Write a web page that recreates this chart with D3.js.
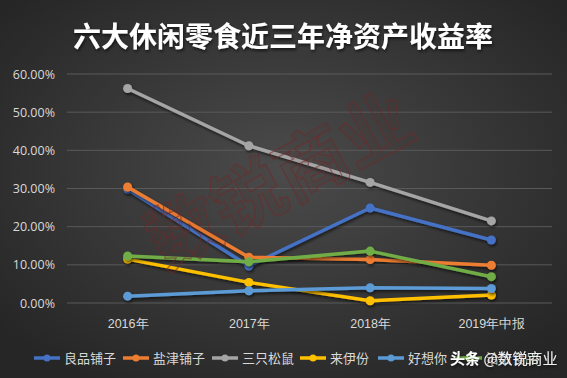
<!DOCTYPE html>
<html>
<head>
<meta charset="utf-8">
<script src="https://cdn.jsdelivr.net/npm/d3@7"></script>
<style>
  html, body { margin: 0; padding: 0; background: #2b2b2b; }
  svg { display: block; font-family: "Noto Sans CJK SC", "Open Sans", sans-serif; }
</style>
</head>
<body>
<div id="wrapper"></div>
<script>
const years = ["2016年", "2017年", "2018年", "2019年中报"];
const yTicks = [0, 0.1, 0.2, 0.3, 0.4, 0.5, 0.6];
const names = ["良品铺子", "盐津铺子", "三只松鼠", "来伊份", "好想你", "洽洽食品"];
const colors = ["#4472C4", "#ED7D31", "#A5A5A5", "#FFC000", "#5B9BD5", "#70AD47"];
const liangpin = [0.298, 0.097, 0.249, 0.165];
const yanjin = [0.304, 0.120, 0.114, 0.099];
const sanzhi = [0.562, 0.412, 0.316, 0.215];
const laiyifen = [0.115, 0.054, 0.006, 0.021];
const haoxiangni = [0.018, 0.032, 0.040, 0.038];
const qiaqia = [0.123, 0.108, 0.136, 0.069];
const series = [liangpin, yanjin, sanzhi, laiyifen, haoxiangni, qiaqia];
// draw order: back to front
const drawOrder = [2, 3, 4, 0, 1, 5];

function lineChart() {
  const dimensions = {
    width: 567,
    height: 378,
    margin: { top: 74, left: 67, bottom: 75, right: 15 }
  };
  dimensions.boundedWidth = dimensions.width - dimensions.margin.left - dimensions.margin.right;
  dimensions.boundedHeight = dimensions.height - dimensions.margin.top - dimensions.margin.bottom;

  const wrapper = d3.select("#wrapper").append("svg")
    .attr("width", dimensions.width)
    .attr("height", dimensions.height);

  const defs = wrapper.append("defs");
  const grad = defs.append("radialGradient").attr("id", "bg")
    .attr("cx", "50%").attr("cy", "45%").attr("r", "65%");
  grad.append("stop").attr("offset", "0%").attr("stop-color", "#4b4b4b");
  grad.append("stop").attr("offset", "100%").attr("stop-color", "#262626");

  const shadow = defs.append("filter").attr("id", "shadow")
    .attr("x", "-10%").attr("y", "-10%").attr("width", "120%").attr("height", "130%");
  shadow.append("feDropShadow").attr("dx", 1).attr("dy", 2).attr("stdDeviation", 1.5)
    .attr("flood-color", "#000").attr("flood-opacity", 0.6);

  wrapper.append("rect")
    .attr("width", dimensions.width).attr("height", dimensions.height)
    .attr("fill", "url(#bg)");

  wrapper.append("text")
    .attr("x", 283).attr("y", 47)
    .attr("text-anchor", "middle")
    .attr("fill", "#ffffff")
    .attr("font-size", 28).attr("font-weight", "bold")
    .attr("filter", "url(#shadow)")
    .text("六大休闲零食近三年净资产收益率");

  const container = wrapper.append("g")
    .attr("transform", `translate(${dimensions.margin.left},${dimensions.margin.top})`);

  const xScale = d3.scalePoint()
    .domain(years)
    .range([0, dimensions.boundedWidth])
    .padding(0.5);

  const yScale = d3.scaleLinear()
    .domain([0, 0.6])
    .range([dimensions.boundedHeight, 0]);

  // grid
  container.append("g").selectAll("line")
    .data(yTicks)
    .enter().append("line")
    .attr("x1", 0).attr("x2", dimensions.boundedWidth)
    .attr("y1", d => yScale(d)).attr("y2", d => yScale(d))
    .attr("stroke", "#5a5a5a").attr("stroke-width", 1);

  const yAxisGen = d3.axisLeft(yScale).tickValues(yTicks)
    .tickFormat(d => d3.format(".2f")(d * 100) + "%").tickSize(0).tickPadding(12);
  const axisY = container.append("g").call(yAxisGen);
  axisY.select(".domain").remove();
  axisY.selectAll("text").attr("fill", "#d9d9d9").attr("font-size", 12.5)
    .attr("font-family", "'Open Sans', sans-serif");

  const xAxisGen = d3.axisBottom(xScale).tickSize(0).tickPadding(16);
  const axisX = container.append("g")
    .attr("transform", `translate(0,${dimensions.boundedHeight})`)
    .call(xAxisGen);
  axisX.select(".domain").remove();
  axisX.selectAll("text").attr("fill", "#d9d9d9").attr("font-size", 12.5);

  // watermark
  wrapper.append("text")
    .attr("transform", "translate(292,203) rotate(-28)")
    .attr("text-anchor", "middle")
    .attr("font-size", 72).attr("font-weight", "bold")
    .attr("fill", "rgba(110,40,40,0.06)")
    .attr("stroke", "rgba(115,40,40,0.55)").attr("stroke-width", 1.3)
    .text("数锐商业");

  const lineGen = d3.line()
    .x((d, i) => xScale(years[i]))
    .y(d => yScale(d));

  drawOrder.forEach(k => {
    const g = container.append("g").attr("filter", "url(#shadow)");
    g.append("path")
      .datum(series[k])
      .attr("d", lineGen)
      .attr("fill", "none")
      .attr("stroke", colors[k])
      .attr("stroke-width", 3.5)
      .attr("stroke-linejoin", "round");
    g.selectAll("circle")
      .data(series[k])
      .enter().append("circle")
      .attr("cx", (d, i) => xScale(years[i]))
      .attr("cy", d => yScale(d))
      .attr("r", 4.5)
      .attr("fill", colors[k]);
  });

  // legend
  const legendX = [34, 123, 212, 300, 378, 456];
  const legend = wrapper.append("g");
  names.forEach((n, i) => {
    const item = legend.append("g").attr("transform", `translate(${legendX[i]},358)`);
    item.append("line").attr("x1", 0).attr("x2", 26).attr("y1", 0).attr("y2", 0)
      .attr("stroke", colors[i]).attr("stroke-width", 3.5);
    item.append("circle").attr("cx", 13).attr("cy", 0).attr("r", 3.5).attr("fill", colors[i]);
    item.append("text").attr("x", 30).attr("y", 5)
      .attr("fill", "#d9d9d9").attr("font-size", 13).text(n);
  });

  // platform watermark
  const wm = wrapper.append("text")
    .attr("x", 450).attr("y", 364)
    .attr("fill", "#ffffff")
    .attr("font-size", 15)
    .attr("filter", "url(#shadow)");
  wm.append("tspan").attr("font-weight", "bold").text("头条 ");
  wm.append("tspan").attr("fill", "#f0f0f0").text("@数锐商业");
}

lineChart();
</script>
</body>
</html>
